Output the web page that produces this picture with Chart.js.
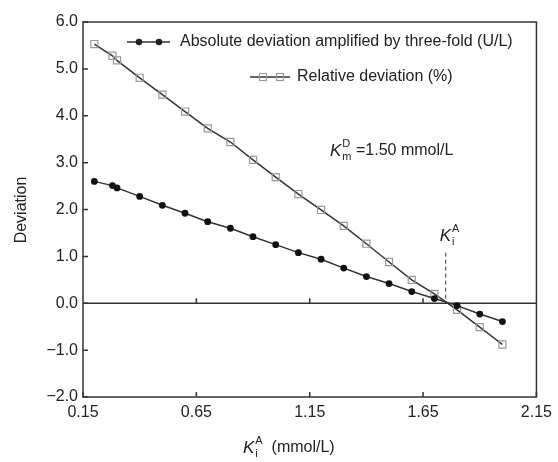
<!DOCTYPE html>
<html>
<head>
<meta charset="utf-8">
<script src="https://cdn.jsdelivr.net/npm/chart.js@4.4.1/dist/chart.umd.min.js"></script>
<style>
  html, body { margin: 0; padding: 0; background: #fff; }
  #wrap { width: 558px; height: 462px; }
</style>
</head>
<body>
<div id="wrap"><canvas id="devChart" width="558" height="462"></canvas></div>
<script>
// Ki(A) values, mmol/L
var kiValues = [0.2, 0.28, 0.3, 0.4, 0.5, 0.6, 0.7, 0.8, 0.9, 1.0, 1.1, 1.2, 1.3, 1.4, 1.5, 1.6, 1.7, 1.8, 1.9, 2.0];
// absolute deviation x3 (U/L)
var absDev = [2.60, 2.51, 2.46, 2.28, 2.09, 1.92, 1.74, 1.60, 1.42, 1.25, 1.08, 0.94, 0.75, 0.57, 0.42, 0.25, 0.10, -0.05, -0.23, -0.39];
// relative deviation (%)
var relDev = [5.53, 5.28, 5.18, 4.81, 4.45, 4.09, 3.73, 3.44, 3.06, 2.69, 2.33, 1.99, 1.65, 1.27, 0.88, 0.50, 0.20, -0.14, -0.51, -0.88];

var xTicks = [0.15, 0.65, 1.15, 1.65, 2.15];
var yTicks = [-2, -1, 0, 1, 2, 3, 4, 5, 6];
var kiMark = 1.75;      // where the dashed marker sits
var kiMarkTop = 1.08;

var FONT = '"Liberation Sans", Arial, sans-serif';
var AXIS = '#333';

function toPoints(ys) {
    return kiValues.map(function (x, i) { return { x: x, y: ys[i] }; });
}

// K with sup/sub
function drawK(ctx, x, y, sup, sub, size) {
    ctx.textAlign = 'left';
    ctx.textBaseline = 'middle';
    ctx.font = 'italic ' + size + 'px ' + FONT;
    ctx.fillText('K', x, y);
    var w = ctx.measureText('K').width;
    ctx.font = Math.round(size * 0.62) + 'px ' + FONT;
    ctx.fillText(sup, x + w + 1, y - size * 0.42);
    ctx.fillText(sub, x + w + 1, y + size * 0.38);
    return x + w + 1 + Math.max(ctx.measureText(sup).width, ctx.measureText(sub).width);
}

var decorPlugin = {
    id: 'decor',
    beforeDatasetsDraw: function (chart) {
        var ctx = chart.ctx, a = chart.chartArea;
        var xs = chart.scales.x, ys = chart.scales.y;
        ctx.save();
        ctx.strokeStyle = AXIS;
        ctx.lineWidth = 1.5;
        // zero line with upward ticks
        var y0 = ys.getPixelForValue(0);
        ctx.beginPath();
        ctx.moveTo(a.left, y0); ctx.lineTo(a.right, y0);
        xTicks.slice(1, -1).forEach(function (v) {
            var px = xs.getPixelForValue(v);
            ctx.moveTo(px, y0); ctx.lineTo(px, y0 - 5);
        });
        ctx.stroke();
        // dashed Ki marker
        ctx.lineWidth = 1;
        ctx.setLineDash([4, 3]);
        ctx.beginPath();
        var kx = xs.getPixelForValue(kiMark);
        ctx.moveTo(kx, ys.getPixelForValue(kiMarkTop));
        ctx.lineTo(kx, y0);
        ctx.stroke();
        ctx.restore();
    },
    afterDraw: function (chart) {
        var ctx = chart.ctx, a = chart.chartArea;
        var xs = chart.scales.x, ys = chart.scales.y;
        ctx.save();
        // frame
        ctx.strokeStyle = AXIS;
        ctx.lineWidth = 1.5;
        ctx.strokeRect(a.left, a.top, a.right - a.left, a.bottom - a.top);
        // inward ticks
        ctx.beginPath();
        yTicks.forEach(function (v) {
            var py = ys.getPixelForValue(v);
            ctx.moveTo(a.left, py); ctx.lineTo(a.left + 5, py);
        });
        xTicks.forEach(function (v) {
            var px = xs.getPixelForValue(v);
            ctx.moveTo(px, a.bottom); ctx.lineTo(px, a.bottom - 5);
        });
        ctx.stroke();

        ctx.fillStyle = '#222';
        // legend
        ctx.strokeStyle = '#333';
        ctx.lineWidth = 1.5;
        ctx.beginPath();
        ctx.moveTo(127, 42); ctx.lineTo(170, 42);
        ctx.moveTo(250, 77); ctx.lineTo(290, 77);
        ctx.stroke();
        [139, 159].forEach(function (px) {
            ctx.beginPath(); ctx.arc(px, 42, 3.3, 0, Math.PI * 2); ctx.fill();
        });
        ctx.strokeStyle = '#999';
        ctx.lineWidth = 1.2;
        [263, 280].forEach(function (px) { ctx.strokeRect(px - 3.5, 77 - 3.5, 7, 7); });
        ctx.font = '16px ' + FONT;
        ctx.textAlign = 'left';
        ctx.textBaseline = 'middle';
        ctx.fillText('Absolute deviation amplified by three-fold (U/L)', 180, 42);
        ctx.fillText('Relative deviation (%)', 297, 77);

        // Km annotation
        var ex = drawK(ctx, 330, 151, 'D', 'm', 17);
        ctx.font = '16px ' + FONT;
        ctx.fillText(' =1.50 mmol/L', ex, 151);

        // Ki label above marker
        drawK(ctx, xs.getPixelForValue(kiMark) - 6, 236, 'A', 'i', 17);

        // x title
        var tx = drawK(ctx, 243, 448, 'A', 'i', 17);
        ctx.font = '16px ' + FONT;
        ctx.fillText('  (mmol/L)', tx, 448);

        // y title
        ctx.translate(22, 210);
        ctx.rotate(-Math.PI / 2);
        ctx.textAlign = 'center';
        ctx.font = '16px ' + FONT;
        ctx.fillText('Deviation', 0, 0);
        ctx.restore();
    }
};

new Chart(document.getElementById('devChart').getContext('2d'), {
    type: 'scatter',
    data: {
        datasets: [{
            label: 'Absolute deviation amplified by three-fold (U/L)',
            data: toPoints(absDev),
            showLine: true,
            borderColor: '#333',
            borderWidth: 1.5,
            tension: 0,
            pointStyle: 'circle',
            pointRadius: 3.4,
            pointBackgroundColor: '#111',
            pointBorderColor: '#111',
            pointBorderWidth: 0
        }, {
            label: 'Relative deviation (%)',
            data: toPoints(relDev),
            showLine: true,
            borderColor: '#333',
            borderWidth: 1.5,
            tension: 0,
            pointStyle: 'rect',
            pointRadius: 5,
            pointBackgroundColor: 'rgba(255,255,255,0)',
            pointBorderColor: '#999',
            pointBorderWidth: 1.2
        }]
    },
    options: {
        responsive: false,
        animation: false,
        events: [],
        layout: { padding: { left: 0, top: 22, right: 21, bottom: 0 } },
        plugins: { legend: { display: false }, tooltip: { enabled: false } },
        scales: {
            x: {
                type: 'linear',
                min: 0.15, max: 2.15,
                afterBuildTicks: function (s) { s.ticks = xTicks.map(function (v) { return { value: v }; }); },
                afterFit: function (s) { s.height = 65; },
                grid: { display: false, drawTicks: false },
                border: { display: false },
                ticks: {
                    padding: 6,
                    color: '#222',
                    font: { family: FONT, size: 16 },
                    callback: function (v) { return v.toFixed(2); }
                }
            },
            y: {
                type: 'linear',
                min: -2, max: 6,
                afterBuildTicks: function (s) { s.ticks = yTicks.map(function (v) { return { value: v }; }); },
                afterFit: function (s) { s.width = 83; },
                grid: { display: false, drawTicks: false },
                border: { display: false },
                ticks: {
                    padding: 5,
                    color: '#222',
                    font: { family: FONT, size: 16 },
                    callback: function (v) { return v.toFixed(1).replace('-', '\u2212'); }
                }
            }
        }
    },
    plugins: [decorPlugin]
});
</script>
</body>
</html>
